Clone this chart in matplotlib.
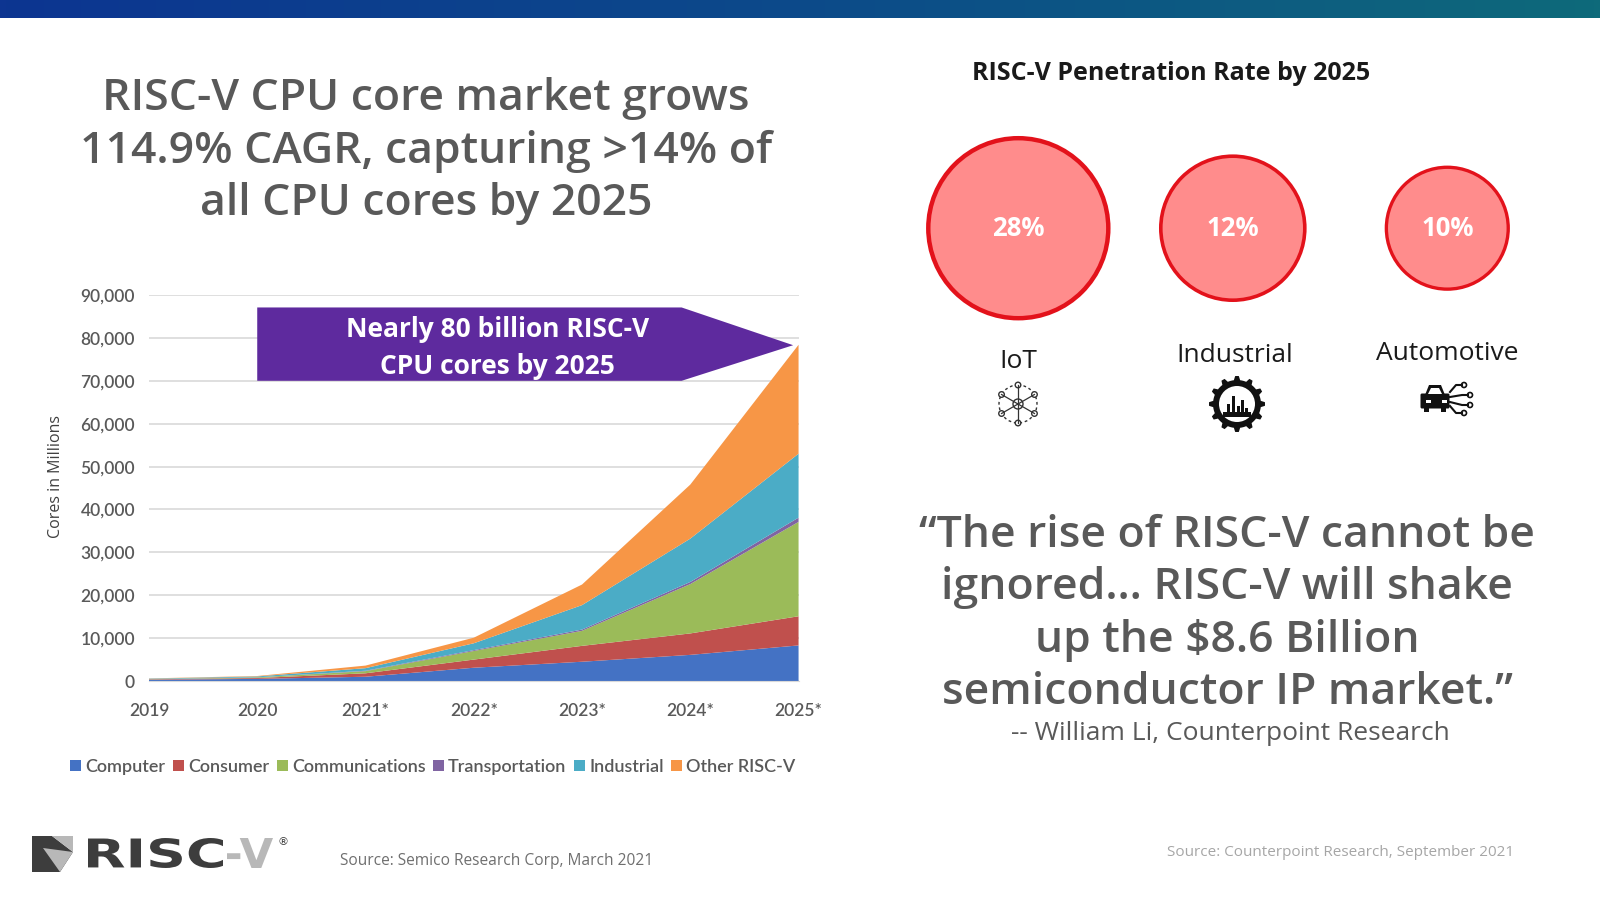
import numpy as np
import matplotlib
matplotlib.use("Agg")
import matplotlib.pyplot as plt
from matplotlib.patches import Polygon, Rectangle, Circle, Patch, FancyBboxPatch, PathPatch
from matplotlib.colors import LinearSegmentedColormap
from matplotlib.ticker import FuncFormatter
from matplotlib.textpath import TextPath
from matplotlib.font_manager import FontProperties
from matplotlib.transforms import Affine2D

# ---- data ----
years = [2019, 2020, 2021, 2022, 2023, 2024, 2025]
year_labels = ["2019", "2020", "2021*", "2022*", "2023*", "2024*", "2025*"]
series_names = ["Computer", "Consumer", "Communications", "Transportation", "Industrial", "Other RISC-V"]
computer = [300, 500, 1000, 3100, 4500, 6100, 8300]
consumer = [100, 200, 800, 1900, 3700, 5000, 6800]
communications = [50, 150, 500, 2000, 3500, 11500, 22000]
transportation = [10, 20, 100, 200, 300, 500, 1000]
industrial = [100, 200, 600, 1600, 5700, 10100, 14900]
other = [50, 100, 600, 1300, 4800, 12600, 25400]

segments = ["IoT", "Industrial", "Automotive"]
penetration = [28, 12, 10]

# ---- style ----
colors = ["#4472C4", "#C0504D", "#9BBB59", "#8064A2", "#4BACC6", "#F79646"]
gray = "#595959"
bubble_sizes = [16800, 10750, 7700]
bubble_edges = [3.2, 2.6, 2.4]
W, H = 1600, 900

fig = plt.figure(figsize=(16, 9), dpi=100)
fig.patch.set_facecolor("white")

# overlay in pixel coordinates for the slide decoration and text
deco = fig.add_axes([0, 0, 1, 1])
deco.axis("off")

# top gradient bar
grad = np.linspace(0, 1, 256).reshape(1, -1)
bar_cmap = LinearSegmentedColormap.from_list("bar", ["#0d3591", "#0c4a8a", "#0e6a7a"])
deco.imshow(grad, cmap=bar_cmap, extent=[0, W, 18, 0], aspect="auto", zorder=0)
deco.set_xlim(0, W)
deco.set_ylim(H, 0)

# title
deco.text(426, 151, "RISC-V CPU core market grows\n114.9% CAGR, capturing >14% of\nall CPU cores by 2025",
          ha="center", va="center", fontsize=32, color=gray, family="Open Sans",
          weight="semibold", linespacing=1.3)

# ---- stacked area chart ----
ax = fig.add_axes([0.0931, 0.2433, 0.406, 0.4289])
stack = [computer, consumer, communications, transportation, industrial, other]
ax.stackplot(years, *stack, colors=colors, linewidth=0)
ax.set_xlim(2019, 2025)
ax.set_ylim(0, 90000)
ax.set_yticks(np.arange(0, 90001, 10000))
ax.yaxis.set_major_formatter(FuncFormatter(lambda v, p: f"{int(v):,}"))
ax.set_xticks(years)
ax.set_xticklabels(year_labels)
ax.grid(axis="y", color="#d9d9d9", lw=1.2)
ax.set_axisbelow(True)
for s in ["top", "right", "left"]:
    ax.spines[s].set_visible(False)
ax.spines["bottom"].set_color("#d9d9d9")
ax.tick_params(axis="y", length=0, labelsize=12.5, labelcolor=gray, pad=10)
ax.tick_params(axis="x", length=0, labelsize=12.5, labelcolor=gray, pad=16)
for lbl in ax.get_xticklabels() + ax.get_yticklabels():
    lbl.set_family("Lato")
    lbl.set_weight("semibold")
ax.patch.set_alpha(0)

fig.text(56 / W, 1 - 476 / H, "Cores in Millions", rotation=90, ha="center", va="center",
         fontsize=11.5, color="#404040", family="Open Sans")

# banner arrow (annotation)
banner = Polygon([[2020.0, 70000], [2023.92, 70000], [2024.95, 78300],
                  [2023.92, 87100], [2020.0, 87100]], closed=True,
                 facecolor="#5E2A9E", edgecolor="none", zorder=5, clip_on=False)
ax.add_patch(banner)
ax.text(2022.22, 77600, "Nearly 80 billion RISC-V\nCPU cores by 2025", ha="center", va="center",
        fontsize=19, color="white", weight="bold", family="Open Sans", zorder=6, linespacing=1.5)

# legend
handles = [Patch(facecolor=c, edgecolor="none") for c in colors]
leg = fig.legend(handles, series_names, loc="center", bbox_to_anchor=(433 / W, 1 - 767 / H),
                 ncol=6, frameon=False, handlelength=0.6, handleheight=0.6,
                 handletextpad=0.25, columnspacing=0.4, prop={"family": "Lato", "size": 13,
                                                            "weight": "semibold"})
for t in leg.get_texts():
    t.set_color(gray)

# left source + logo
deco.text(340, 861, "Source: Semico Research Corp, March 2021", ha="left", va="center",
          fontsize=11.2, color="#6f6f6f", family="Open Sans")
deco.add_patch(Polygon([[32, 836], [52, 836], [73, 852], [60, 872], [32, 872]],
                       closed=True, facecolor="#3d3d3d", edgecolor="none"))
deco.add_patch(Polygon([[52, 836], [73, 836], [73, 852]], closed=True,
                       facecolor="#b8b8b8", edgecolor="none"))
deco.add_patch(Polygon([[43, 848], [60, 872], [73, 852]], closed=True,
                       facecolor="#b8b8b8", edgecolor="none"))


def logo_word(word, x0, x1, y_top, y_bot, color):
    tp = TextPath((0, 0), word, size=30, prop=FontProperties(family="DejaVu Sans", weight="bold"))
    ext = tp.get_extents()
    sx = (x1 - x0) / ext.width
    sy = (y_bot - y_top) / ext.height
    tr = (Affine2D().translate(-ext.x0, -ext.y0).scale(sx, -sy).translate(x0, y_bot))
    deco.add_patch(PathPatch(tr.transform_path(tp), fc=color, ec="none"))


logo_word("RISC", 88, 223, 838, 868, "#3d3d3d")
logo_word("-V", 227, 273, 838, 868, "#b8b8b8")
deco.text(283, 842, "®", ha="center", va="center", fontsize=8, color="#3d3d3d")

# ---- penetration bubbles ----
deco.text(1171, 74, "RISC-V Penetration Rate by 2025", ha="center", va="center",
          fontsize=18, color="#1a1a1a", weight="bold", family="Open Sans")

bx = fig.add_axes([0.556, 1 - 428 / H, 0.429, 0.444])
bx.set_xlim(-0.6, 2.6)
bx.set_ylim(0, 1)
bx.axis("off")
xs = np.arange(len(segments))
bx.scatter(xs, [0.5] * len(xs), s=bubble_sizes, facecolor="#FF8C8C",
           edgecolors="#E3121B", linewidths=bubble_edges, zorder=3)
for x, v in zip(xs, penetration):
    bx.text(x, 0.5, f"{v}%", ha="center", va="center", fontsize=18.5, color="white",
            weight="bold", family="Open Sans", zorder=4)

label_pos = [(1018, 362), (1235, 356), (1447, 354)]
for (lx, ly), name in zip(label_pos, segments):
    deco.text(lx, ly, name, ha="center", va="center", fontsize=19, color="#1a1a1a",
              family="Open Sans")

# icons (simplified)
# IoT: network of nodes
cx, cy = 1018, 404
deco.add_patch(Circle((cx, cy), 19, fill=False, ec="#333333", lw=1, ls=(0, (2, 2))))
for a in np.linspace(0, 2 * np.pi, 7)[:-1]:
    nx, ny = cx + 19 * np.sin(a), cy - 19 * np.cos(a)
    deco.plot([cx, nx], [cy, ny], color="#333333", lw=0.9)
    deco.add_patch(Circle((nx, ny), 2.8, fc="white", ec="#333333", lw=1))
deco.add_patch(Circle((cx, cy), 5, fc="white", ec="#333333", lw=1))

# Industrial: gear with factory
gx, gy = 1237, 404
ang = np.linspace(0, 2 * np.pi, 97)
rad = 24 + 4 * (np.cos(12 * ang) > 0.3)
deco.add_patch(Polygon(np.c_[gx + rad * np.cos(ang), gy + rad * np.sin(ang)],
                       closed=True, fc="#111111", ec="none"))
deco.add_patch(Circle((gx, gy), 18, fc="white", ec="none"))
for dx, h in [(-9, 12), (-4, 20), (1, 10), (5, 16), (9, 8)]:
    deco.add_patch(Rectangle((gx + dx - 1.5, gy + 12 - h), 3, h, fc="#111111", ec="none"))
deco.add_patch(Rectangle((gx - 14, gy + 8), 28, 5, fc="#111111", ec="none"))

# Automotive: car front with circuit lines
ax0, ay0 = 1438, 399
deco.add_patch(FancyBboxPatch((ax0 - 16, ay0 - 4), 26, 12, boxstyle="round,pad=1.5",
                              fc="#111111", ec="none"))
deco.add_patch(Polygon([[ax0 - 13, ay0 - 4], [ax0 - 9, ay0 - 14], [ax0 + 3, ay0 - 14],
                        [ax0 + 7, ay0 - 4]], closed=True, fc="#111111", ec="none"))
deco.add_patch(Polygon([[ax0 - 10, ay0 - 5], [ax0 - 7, ay0 - 11], [ax0 + 1, ay0 - 11],
                        [ax0 + 4, ay0 - 5]], closed=True, fc="white", ec="none"))
for hx in (ax0 - 12, ax0 + 4):
    deco.add_patch(Rectangle((hx, ay0 + 1), 5, 3, fc="white", ec="none"))
deco.add_patch(Rectangle((ax0 - 14, ay0 + 8), 5, 5, fc="#111111", ec="none"))
deco.add_patch(Rectangle((ax0 + 3, ay0 + 8), 5, 5, fc="#111111", ec="none"))
for ex, ey in [(24, -14), (30, -4), (30, 6), (24, 14)]:
    deco.plot([ax0 + 12, ax0 + ex - 6, ax0 + ex], [ay0 + ey * 0.5, ay0 + ey, ay0 + ey],
              color="#111111", lw=1.5)
    deco.add_patch(Circle((ax0 + ex + 2, ay0 + ey), 2.5, fc="white", ec="#111111", lw=1.2))

# quote
deco.text(1227, 614, "\u201cThe rise of RISC-V cannot be\nignored\u2026 RISC-V will shake\nup the $8.6 Billion\nsemiconductor IP market.\u201d",
          ha="center", va="center", fontsize=32, color=gray, family="Open Sans",
          weight="semibold", linespacing=1.29)
deco.text(1230, 733, "-- William Li, Counterpoint Research", ha="center", va="center",
          fontsize=19, color=gray, family="Open Sans")
deco.text(1514, 853, "Source: Counterpoint Research, September 2021", ha="right", va="center",
          fontsize=11, color="#a6a6a6", family="Open Sans")

fig.savefig("out.png", dpi=100, facecolor="white")
